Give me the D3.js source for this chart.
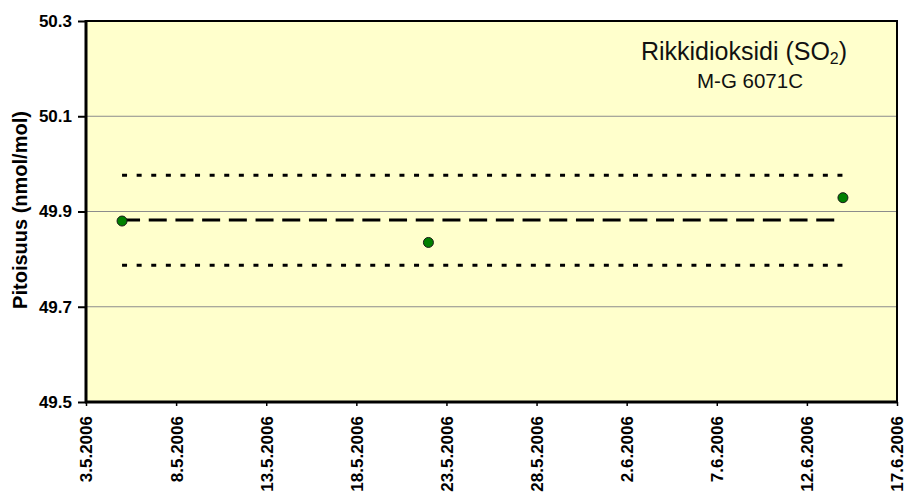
<!DOCTYPE html>
<html><head><meta charset="utf-8">
<script src="https://cdn.jsdelivr.net/npm/d3@7"></script>
<style>body{margin:0;background:#fff}svg{display:block;font-family:"Liberation Sans",Arial,sans-serif}</style>
</head><body><svg id="c" width="906" height="496"></svg>
<script>
const tickLabels = ["3.5.2006","8.5.2006","13.5.2006","18.5.2006","23.5.2006","28.5.2006","2.6.2006","7.6.2006","12.6.2006","17.6.2006"];
const yTicks = [49.5, 49.7, 49.9, 50.1, 50.3];
const pointDates = ["5.5.2006","22.5.2006","14.6.2006"];
const pointValues = [49.880, 49.835, 49.929];
const meanValue = [49.882];
const upperLimit = [49.976];
const lowerLimit = [49.787];
const titleText = "Rikkidioksidi (SO";
const subtitleText = "M-G 6071C";
const yLabel = "Pitoisuus (nmol/mol)";

const parse = d3.timeParse("%d.%m.%Y");
const svg = d3.select("#c");
const L = 86, R = 897, T = 21, B = 402;
const x = d3.scaleTime().domain([parse(tickLabels[0]), parse(tickLabels[tickLabels.length-1])]).range([L, R]);
const y = d3.scaleLinear().domain([49.5, 50.3]).range([B, T]);

svg.append("rect").attr("x", L).attr("y", T).attr("width", R-L).attr("height", B-T).attr("fill", "#FFFFCC");

// gridlines
svg.append("g").selectAll("line").data(yTicks.filter(v => v > 49.5 && v < 50.3)).join("line")
  .attr("x1", L).attr("x2", R).attr("y1", d => y(d)).attr("y2", d => y(d))
  .attr("stroke", "#8c8c8c").attr("stroke-width", 1);

// frame top & right
svg.append("path").attr("d", `M${L},${T}H${R}V${B}`).attr("fill","none").attr("stroke","#000").attr("stroke-width",2);

const dates = pointDates.map(parse);
const x0 = x(dates[0]), x1 = x(dates[dates.length-1]);

// limit lines
[upperLimit[0], lowerLimit[0]].forEach(v => {
  svg.append("line").attr("x1", x0).attr("x2", x1).attr("y1", y(v)).attr("y2", y(v))
    .attr("stroke", "#000").attr("stroke-width", 3).attr("stroke-dasharray", "5,9.6");
});
svg.append("line").attr("x1", x0).attr("x2", x1).attr("y1", y(meanValue[0])).attr("y2", y(meanValue[0]))
  .attr("stroke", "#000").attr("stroke-width", 3).attr("stroke-dasharray", "18,8.7");

// points
svg.append("g").selectAll("circle").data(pointValues).join("circle")
  .attr("cx", (d,i) => x(dates[i])).attr("cy", d => y(d)).attr("r", 5)
  .attr("fill", "#008000").attr("stroke", "#1a1a1a").attr("stroke-width", 1);

// y axis
const yAxis = svg.append("g").attr("transform", `translate(${L},0)`)
  .call(d3.axisLeft(y).tickValues(yTicks).tickFormat(d3.format(".1f")).tickSize(8).tickPadding(6));
yAxis.select(".domain").attr("stroke-width", 3).attr("d", `M0,${T-1}V${B}`);
yAxis.selectAll(".tick line").attr("stroke-width", 2);
yAxis.selectAll("text").attr("font-size", 17).attr("font-weight", "bold").attr("font-family", "Liberation Sans, Arial").attr("fill","#000");

// x axis
const xAxis = svg.append("g").attr("transform", `translate(0,${B})`)
  .call(d3.axisBottom(x).tickValues(tickLabels.map(parse)).tickFormat((d,i) => tickLabels[i]).tickSize(4));
xAxis.select(".domain").attr("stroke-width", 3).attr("d", `M${L-1},0H${R}`);
xAxis.selectAll(".tick line").attr("stroke-width", 1.5);
xAxis.selectAll("text").attr("font-size", 17).attr("font-weight", "bold").attr("font-family", "Liberation Sans, Arial").attr("fill","#000")
  .attr("transform", "rotate(-90)").attr("text-anchor", "end").attr("x", -14).attr("y", 0).attr("dy", "0.35em");

// y label
svg.append("text").attr("transform", "translate(27,210) rotate(-90)").attr("text-anchor", "middle")
  .attr("font-size", 20).attr("font-weight", "bold").text(yLabel);

// title
const t = svg.append("text").attr("x", 744).attr("y", 60).attr("text-anchor", "middle").attr("font-size", 25).attr("fill", "#111");
t.append("tspan").text(titleText);
t.append("tspan").attr("font-size", 16).attr("dy", 4).text("2");
t.append("tspan").attr("dy", -4).text(")");
svg.append("text").attr("x", 750).attr("y", 88).attr("text-anchor", "middle").attr("font-size", 20.5).attr("fill", "#111").text(subtitleText);
</script></body></html>
